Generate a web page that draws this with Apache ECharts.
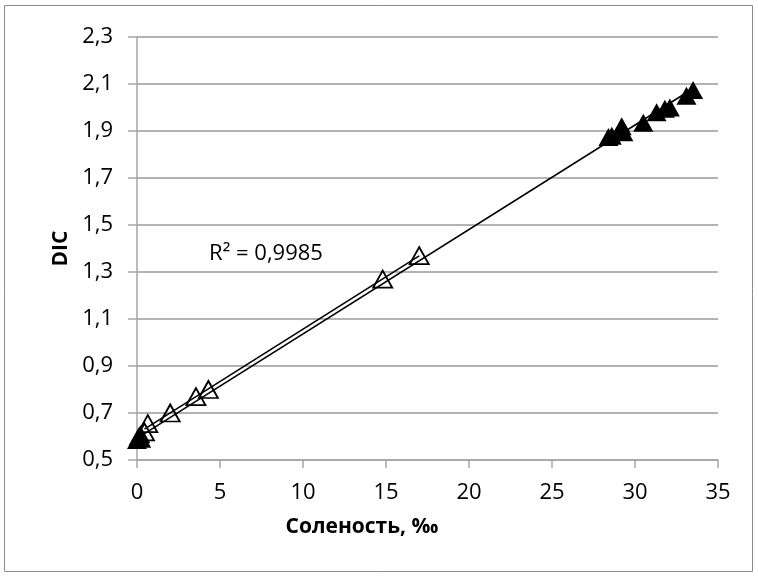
<!DOCTYPE html>
<html>
<head>
<meta charset="utf-8">
<style>
  html, body { margin: 0; padding: 0; background: #fff; }
  #chart { width: 758px; height: 578px; }
</style>
<script src="https://cdn.jsdelivr.net/npm/echarts@6/dist/echarts.min.js"></script>
</head>
<body>
<div id="chart"></div>
<script>
// Salinity (‰) and DIC, two groups of samples
const openSalinity = [0.45, 0.65, 2.0, 3.55, 4.3, 14.8, 17.0];
const openDIC      = [0.62, 0.655, 0.70, 0.77, 0.80, 1.27, 1.37];

const filledSalinity = [0.0, 0.1, 0.2, 0.25, 28.4, 28.6, 29.2, 29.3, 30.5, 31.3, 31.8, 32.1, 33.1, 33.5];
const filledDIC      = [0.585, 0.60, 0.61, 0.59, 1.875, 1.88, 1.92, 1.895, 1.935, 1.98, 1.995, 2.0, 2.05, 2.075];

const xTicks = [0, 5, 10, 15, 20, 25, 30, 35];
const yTicks = [0.5, 0.7, 0.9, 1.1, 1.3, 1.5, 1.7, 1.9, 2.1, 2.3];

const r2Text = 'R² = 0,9985';
const xTitle = 'Соленость, ‰';
const yTitle = 'DIC';

// least-squares line over the x-range of the given samples
function linearFit(xs, ys) {
  const n = xs.length;
  const mx = xs.reduce((a, b) => a + b, 0) / n;
  const my = ys.reduce((a, b) => a + b, 0) / n;
  let sxy = 0, sxx = 0;
  for (let i = 0; i < n; i++) {
    sxy += (xs[i] - mx) * (ys[i] - my);
    sxx += (xs[i] - mx) * (xs[i] - mx);
  }
  const k = sxy / sxx;
  const b = my - k * mx;
  const x0 = Math.min(...xs), x1 = Math.max(...xs);
  return [[x0, k * x0 + b], [x1, k * x1 + b]];
}

const zip = (xs, ys) => xs.map((x, i) => [x, ys[i]]);

const FONT = '"Open Sans", "DejaVu Sans", sans-serif';
const GRID_GRAY = '#b3b3b3';
const AXIS_GRAY = '#a6a6a6';

const chart = echarts.init(document.getElementById('chart'), null, { renderer: 'canvas' });

chart.setOption({
  animation: false,
  backgroundColor: '#ffffff',
  grid: { left: 137, right: 40, top: 37, bottom: 118, containLabel: false },
  xAxis: {
    type: 'value',
    min: xTicks[0],
    max: xTicks[xTicks.length - 1],
    interval: xTicks[1] - xTicks[0],
    axisLine: { show: true, onZero: false, lineStyle: { color: AXIS_GRAY, width: 1.5 } },
    axisTick: { show: true, inside: false, length: 8, lineStyle: { color: AXIS_GRAY, width: 1.5 } },
    splitLine: { show: false },
    axisLabel: { margin: 22, fontFamily: FONT, fontSize: 22, color: '#000' }
  },
  yAxis: {
    type: 'value',
    min: yTicks[0],
    max: yTicks[yTicks.length - 1],
    interval: 0.2,
    name: yTitle,
    nameLocation: 'middle',
    nameGap: 62,
    nameRotate: 90,
    nameTextStyle: { fontFamily: FONT, fontSize: 21, fontWeight: 'bold', color: '#000' },
    axisLine: { show: true, onZero: false, lineStyle: { color: AXIS_GRAY, width: 1.5 } },
    axisTick: { show: true, inside: false, length: 9, lineStyle: { color: AXIS_GRAY, width: 1.5 } },
    splitLine: { show: true, lineStyle: { color: GRID_GRAY, width: 2 } },
    axisLabel: {
      margin: 24,
      fontFamily: FONT, fontSize: 22, color: '#000',
      formatter: v => v.toFixed(1).replace('.', ',')
    }
  },
  graphic: [
    {
      type: 'rect',
      shape: { x: 4.5, y: 5.5, width: 748, height: 566 },
      style: { fill: 'none', stroke: '#8c8c8c', lineWidth: 1 },
      silent: true
    },
    {
      type: 'text',
      x: 362, y: 527,
      style: {
        text: xTitle, fontFamily: FONT, fontSize: 21, fontWeight: 'bold',
        fill: '#000', align: 'center', verticalAlign: 'middle'
      }
    },
    {
      type: 'text',
      x: 266, y: 254,
      style: {
        text: r2Text, fontFamily: FONT, fontSize: 22,
        fill: '#000', align: 'center', verticalAlign: 'middle'
      }
    }
  ],
  series: [
    {
      name: 'open',
      type: 'scatter',
      data: zip(openSalinity, openDIC),
      symbol: 'triangle',
      symbolSize: [19, 17],
      itemStyle: { color: 'rgba(255,255,255,0)', borderColor: '#000', borderWidth: 1.8, opacity: 1 },
      z: 3
    },
    {
      name: 'filled',
      type: 'scatter',
      data: zip(filledSalinity, filledDIC),
      symbol: 'triangle',
      symbolSize: [20, 18],
      itemStyle: { color: '#000', opacity: 1 },
      z: 3
    },
    {
      name: 'open fit',
      type: 'line',
      data: linearFit(openSalinity, openDIC),
      showSymbol: false,
      symbol: 'none',
      lineStyle: { color: '#000', width: 1.6 },
      z: 4
    },
    {
      name: 'filled fit',
      type: 'line',
      data: linearFit(filledSalinity, filledDIC),
      showSymbol: false,
      symbol: 'none',
      lineStyle: { color: '#000', width: 1.6 },
      z: 4
    }
  ]
});
</script>
</body>
</html>
